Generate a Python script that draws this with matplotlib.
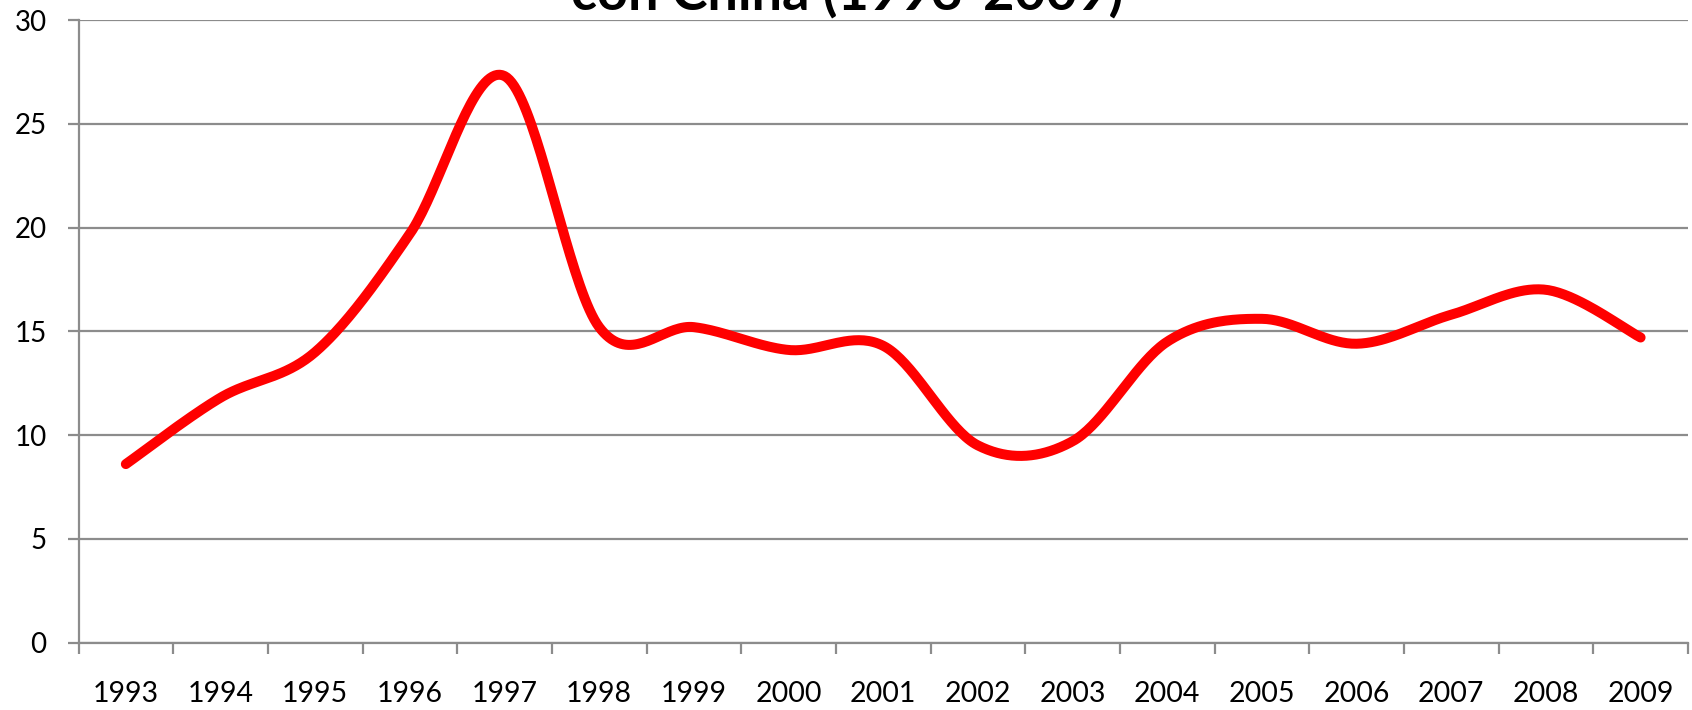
import numpy as np
import matplotlib
matplotlib.use("Agg")
import matplotlib.pyplot as plt

plt.rcParams['font.family'] = ['Lato', 'DejaVu Sans']

# data
years = ['1993', '1994', '1995', '1996', '1997', '1998', '1999', '2000', '2001',
         '2002', '2003', '2004', '2005', '2006', '2007', '2008', '2009']
values = [8.6, 11.8, 14.0, 19.7, 27.3, 15.2, 15.2, 14.1, 14.3,
          9.5, 9.7, 14.5, 15.6, 14.4, 15.8, 17.0, 14.7]
y_ticks = [0, 5, 10, 15, 20, 25, 30]


def smooth(xs, ys, n=40):
    # Catmull-Rom spline, like Excel's "smoothed line"
    xs = np.asarray(xs, float)
    ys = np.asarray(ys, float)
    px = np.concatenate([[xs[0]], xs, [xs[-1]]])
    py = np.concatenate([[ys[0]], ys, [ys[-1]]])
    out_x, out_y = [], []
    t = np.linspace(0, 1, n)
    h00 = 2 * t**3 - 3 * t**2 + 1
    h10 = t**3 - 2 * t**2 + t
    h01 = -2 * t**3 + 3 * t**2
    h11 = t**3 - t**2
    for i in range(1, len(px) - 2):
        mx0 = (px[i + 1] - px[i - 1]) / 2
        mx1 = (px[i + 2] - px[i]) / 2
        my0 = (py[i + 1] - py[i - 1]) / 2
        my1 = (py[i + 2] - py[i]) / 2
        out_x.append(h00 * px[i] + h10 * mx0 + h01 * px[i + 1] + h11 * mx1)
        out_y.append(h00 * py[i] + h10 * my0 + h01 * py[i + 1] + h11 * my1)
    return np.concatenate(out_x), np.concatenate(out_y)


fig = plt.figure(figsize=(16.92, 7.10), dpi=100, facecolor='white')
ax = fig.add_axes([0.0464, 0.095, 0.9512, 0.8768])

x = np.arange(len(years))
sx, sy = smooth(x, values)
ax.plot(sx, sy, color='#ff0000', linewidth=7.2, solid_capstyle='round',
        solid_joinstyle='round', zorder=3)

grid_col = '#8c8c8c'
ax.set_ylim(0, 30)
ax.set_xlim(-0.5, len(years) - 0.5)
ax.set_yticks(y_ticks)
ax.yaxis.grid(True, color=grid_col, linewidth=1.6)
ax.set_axisbelow(True)

# tick marks on category boundaries, labels in the middle
ax.set_xticks(np.arange(-0.5, len(years)))
ax.set_xticklabels([])
ax.set_xticks(x, minor=True)
ax.set_xticklabels(years, minor=True)
ax.tick_params(axis='x', which='major', length=8, width=1.6, color=grid_col, direction='out')
ax.tick_params(axis='x', which='minor', length=0, pad=28, labelsize=20.5)
ax.tick_params(axis='y', length=8, width=1.6, color=grid_col, pad=15, labelsize=20)

for side in ['top', 'right']:
    ax.spines[side].set_visible(False)
for side in ['left', 'bottom']:
    ax.spines[side].set_color(grid_col)
    ax.spines[side].set_linewidth(1.6)

# the chart title is cut off by the top edge of the picture
fig.text(0.5005, 1 - 10 / 710, 'con China (1993-2009)', ha='center', va='baseline',
         fontsize=39, fontweight='bold')

fig.savefig('out.png', dpi=100, facecolor='white')
